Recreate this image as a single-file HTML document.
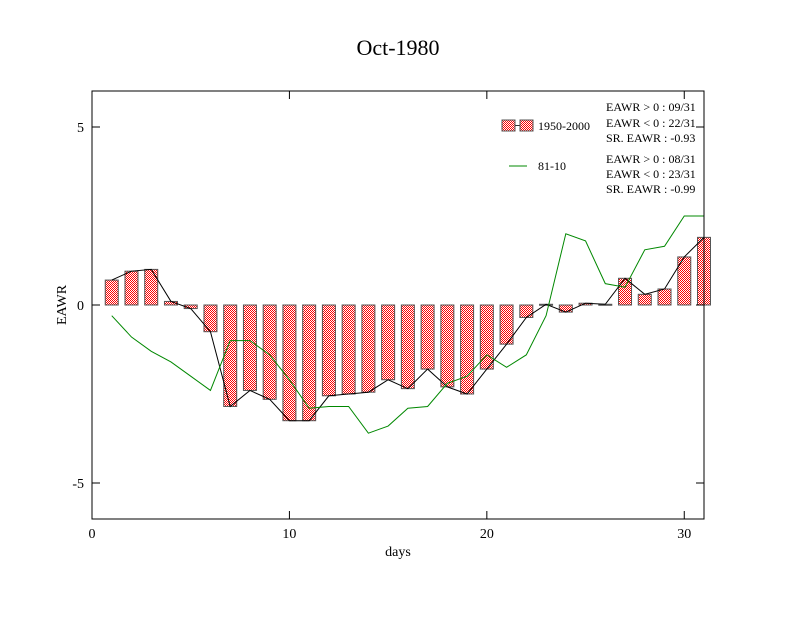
<!DOCTYPE html>
<html><head><meta charset="utf-8"><style>
body{margin:0;background:#fff}
svg text{font-family:"Liberation Serif",serif;fill:#000}
</style></head><body>
<svg id="c" width="792" height="612" viewBox="0 0 792 612">
<defs>
<pattern id="chk" width="2" height="2" patternUnits="userSpaceOnUse">
<rect width="2" height="2" fill="#fff"/><rect width="1" height="1" fill="#f00"/><rect x="1" y="1" width="1" height="1" fill="#f00"/>
</pattern>
</defs>
<rect x="0" y="0" width="792" height="612" fill="#fff"/>
<text x="398" y="55" font-size="22" text-anchor="middle">Oct-1980</text>
<g id="marks"></g>
<rect x="92" y="91" width="612" height="428" fill="none" stroke="#000" stroke-width="1"/>
<g id="axes"></g>
<text x="398" y="556" font-size="14" text-anchor="middle">days</text>
<text transform="translate(66,305) rotate(-90)" font-size="14" text-anchor="middle">EAWR</text>
<g>
<rect x="502" y="120" width="13" height="11" fill="url(#chk)" stroke="#555"/>
<line x1="515" y1="125.5" x2="520" y2="125.5" stroke="#333"/>
<rect x="520" y="120" width="13" height="11" fill="url(#chk)" stroke="#555"/>
<text x="538" y="130" font-size="12">1950-2000</text>
<line x1="509" y1="166" x2="527" y2="166" stroke="#080"/>
<text x="538" y="170" font-size="12">81-10</text>
</g>
<g font-size="12">
<text x="606" y="111">EAWR &gt; 0 : 09/31</text>
<text x="606" y="127">EAWR &lt; 0 : 22/31</text>
<text x="606" y="142">SR. EAWR : -0.93</text>
<text x="606" y="163">EAWR &gt; 0 : 08/31</text>
<text x="606" y="178">EAWR &lt; 0 : 23/31</text>
<text x="606" y="193">SR. EAWR : -0.99</text>
</g>
</svg>
<script>
const days=[1,2,3,4,5,6,7,8,9,10,11,12,13,14,15,16,17,18,19,20,21,22,23,24,25,26,27,28,29,30,31];
const barValues=[0.7,0.95,1.0,0.1,-0.1,-0.75,-2.85,-2.4,-2.65,-3.25,-3.25,-2.55,-2.5,-2.45,-2.1,-2.35,-1.8,-2.3,-2.5,-1.8,-1.1,-0.35,0.02,-0.2,0.05,0.02,0.75,0.3,0.45,1.35,1.9];
const greenValues=[-0.3,-0.9,-1.3,-1.6,-2.0,-2.4,-1.0,-1.0,-1.4,-2.1,-2.9,-2.85,-2.85,-3.6,-3.4,-2.9,-2.85,-2.2,-2.0,-1.4,-1.75,-1.4,-0.3,2.0,1.8,0.6,0.5,1.55,1.65,2.5,2.5];
const xTicks=[0,10,20,30];
const yTicks=[5,0,-5];
const NS='http://www.w3.org/2000/svg';
const X=v=>92+v*(612/31);
const Y=v=>305-v*35.6;
function mk(t,a,p){const e=document.createElementNS(NS,t);for(const k in a)e.setAttribute(k,a[k]);p.appendChild(e);return e;}
const marks=document.getElementById('marks'),axes=document.getElementById('axes');
days.forEach((d,i)=>{
  const v=barValues[i];const y0=Y(0),y1=Y(v);
  const r=mk('rect',{x:X(d)-6.5,y:Math.min(y0,y1),width:13,height:Math.max(1,Math.abs(y1-y0)),fill:'url(#chk)',stroke:'#555','stroke-width':1},marks);
  
  
});
const bl=mk('polyline',{points:days.map((d,i)=>X(d)+','+Y(barValues[i])).join(' '),fill:'none',stroke:'#000','stroke-width':1},marks);


const gl=mk('polyline',{points:days.map((d,i)=>X(d)+','+Y(greenValues[i])).join(' '),fill:'none',stroke:'#080','stroke-width':1},marks);


xTicks.forEach(t=>{
  const l=mk('line',{x1:X(t),x2:X(t),y1:519,y2:511,stroke:'#000'},axes);
  
  
  const l2=mk('line',{x1:X(t),x2:X(t),y1:91,y2:99,stroke:'#000'},axes);
  
  
  const tx=mk('text',{x:X(t),y:538,'font-size':14,'text-anchor':'middle'},axes);tx.textContent=t;
  
  
});
yTicks.forEach(t=>{
  const l=mk('line',{x1:92,x2:100,y1:Y(t),y2:Y(t),stroke:'#000'},axes);
  
  
  const l2=mk('line',{x1:696,x2:704,y1:Y(t),y2:Y(t),stroke:'#000'},axes);
  
  
  const tx=mk('text',{x:84,y:Y(t)+5,'font-size':14,'text-anchor':'end'},axes);tx.textContent=t;
  
  
});
</script>
</body></html>
